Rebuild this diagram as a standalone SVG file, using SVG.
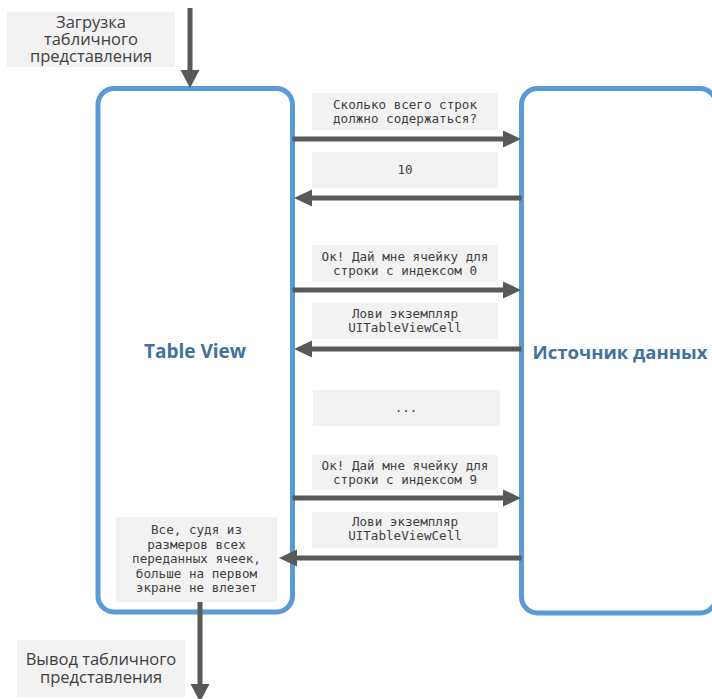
<svg xmlns="http://www.w3.org/2000/svg" width="712" height="699" viewBox="0 0 712 699">
<style>
.box{fill:#ffffff;stroke:#5b9bd5;stroke-width:5}
.lbl{fill:#f2f2f2}
.mono{font-family:"DejaVu Sans Mono","Liberation Mono",monospace;fill:#404040;text-anchor:middle;font-size:12.6px}
.sans{font-family:"Open Sans","Noto Sans",sans-serif;fill:#404040;text-anchor:middle;font-size:16.5px}
.title{font-family:"Open Sans","Noto Sans",sans-serif;font-weight:700;font-size:19px;fill:#41719c;text-anchor:middle}
.conn{stroke:#595959;stroke-width:5;fill:none}
.head{fill:#595959}
</style>
<g id="table-view">
<rect class="box" x="98" y="88.5" width="194.5" height="523.5" rx="16"/>
<text class="title" x="195" y="358">Table View</text>
</g>
<g id="data-source">
<rect class="box" x="521.5" y="88.5" width="194.5" height="524.5" rx="16"/>
<text class="title" x="620" y="359" style="font-size:18.5px">Источник данных</text>
</g>
<g id="load-label">
<rect class="lbl" x="7" y="12" width="168" height="55"/>
<text class="sans" x="91" y="27.5">Загрузка</text>
<text class="sans" x="91" y="44.5">табличного</text>
<text class="sans" x="91" y="61.5">представления</text>
</g>
<g id="output-label">
<rect class="lbl" x="17" y="640" width="168" height="57"/>
<text class="sans" x="101" y="665">Вывод табличного</text>
<text class="sans" x="101" y="682.5">представления</text>
</g>
<g id="msg1">
<rect class="lbl" x="312" y="93" width="186" height="37"/>
<text class="mono" x="405" y="109">Сколько всего строк</text>
<text class="mono" x="405" y="123">должно содержаться?</text>
</g>
<g id="msg2">
<rect class="lbl" x="312" y="152" width="186" height="36"/>
<text class="mono" x="405" y="174">10</text>
</g>
<g id="msg3">
<rect class="lbl" x="312" y="245" width="186" height="37"/>
<text class="mono" x="405" y="261">Ок! Дай мне ячейку для</text>
<text class="mono" x="405" y="275">строки с индексом 0</text>
</g>
<g id="msg4">
<rect class="lbl" x="312" y="303" width="186" height="36"/>
<text class="mono" x="405" y="318">Лови экземпляр</text>
<text class="mono" x="405" y="332">UITableViewCell</text>
</g>
<g id="msg5">
<rect class="lbl" x="313" y="390" width="187" height="36"/>
<text class="mono" x="406" y="412">...</text>
</g>
<g id="msg6">
<rect class="lbl" x="312" y="455" width="186" height="35"/>
<text class="mono" x="405" y="470">Ок! Дай мне ячейку для</text>
<text class="mono" x="405" y="484">строки с индексом 9</text>
</g>
<g id="msg7">
<rect class="lbl" x="312" y="512" width="186" height="36"/>
<text class="mono" x="405" y="526">Лови экземпляр</text>
<text class="mono" x="405" y="540">UITableViewCell</text>
</g>
<g id="note">
<rect class="lbl" x="116" y="517" width="161" height="85"/>
<text class="mono" x="196.5" y="534">Все, судя из</text>
<text class="mono" x="196.5" y="548.5">размеров всех</text>
<text class="mono" x="196.5" y="563">переданных ячеек,</text>
<text class="mono" x="196.5" y="577.5">больше на первом</text>
<text class="mono" x="196.5" y="592">экране не влезет</text>
</g>
<g id="connectors">
<path class="conn" d="M190,8 V72"/>
<polygon class="head" points="180.5,70 199.5,70 190,88"/>
<path class="conn" d="M292.5,139 H505"/>
<polygon class="head" points="503,130.5 521,139 503,147.5"/>
<path class="conn" d="M521.5,198 H310"/>
<polygon class="head" points="312,189.5 294,198 312,206.5"/>
<path class="conn" d="M292.5,290 H505"/>
<polygon class="head" points="503,281.5 521,290 503,298.5"/>
<path class="conn" d="M521.5,349 H310"/>
<polygon class="head" points="312,340.5 294,349 312,357.5"/>
<path class="conn" d="M292.5,498 H505"/>
<polygon class="head" points="503,489.5 521,498 503,506.5"/>
<path class="conn" d="M521.5,558 H295"/>
<polygon class="head" points="297,549.5 279,558 297,566.5"/>
<path class="conn" d="M200,602 V687"/>
<polygon class="head" points="190.5,684 209.5,684 200,702"/>
</g>
</svg>
